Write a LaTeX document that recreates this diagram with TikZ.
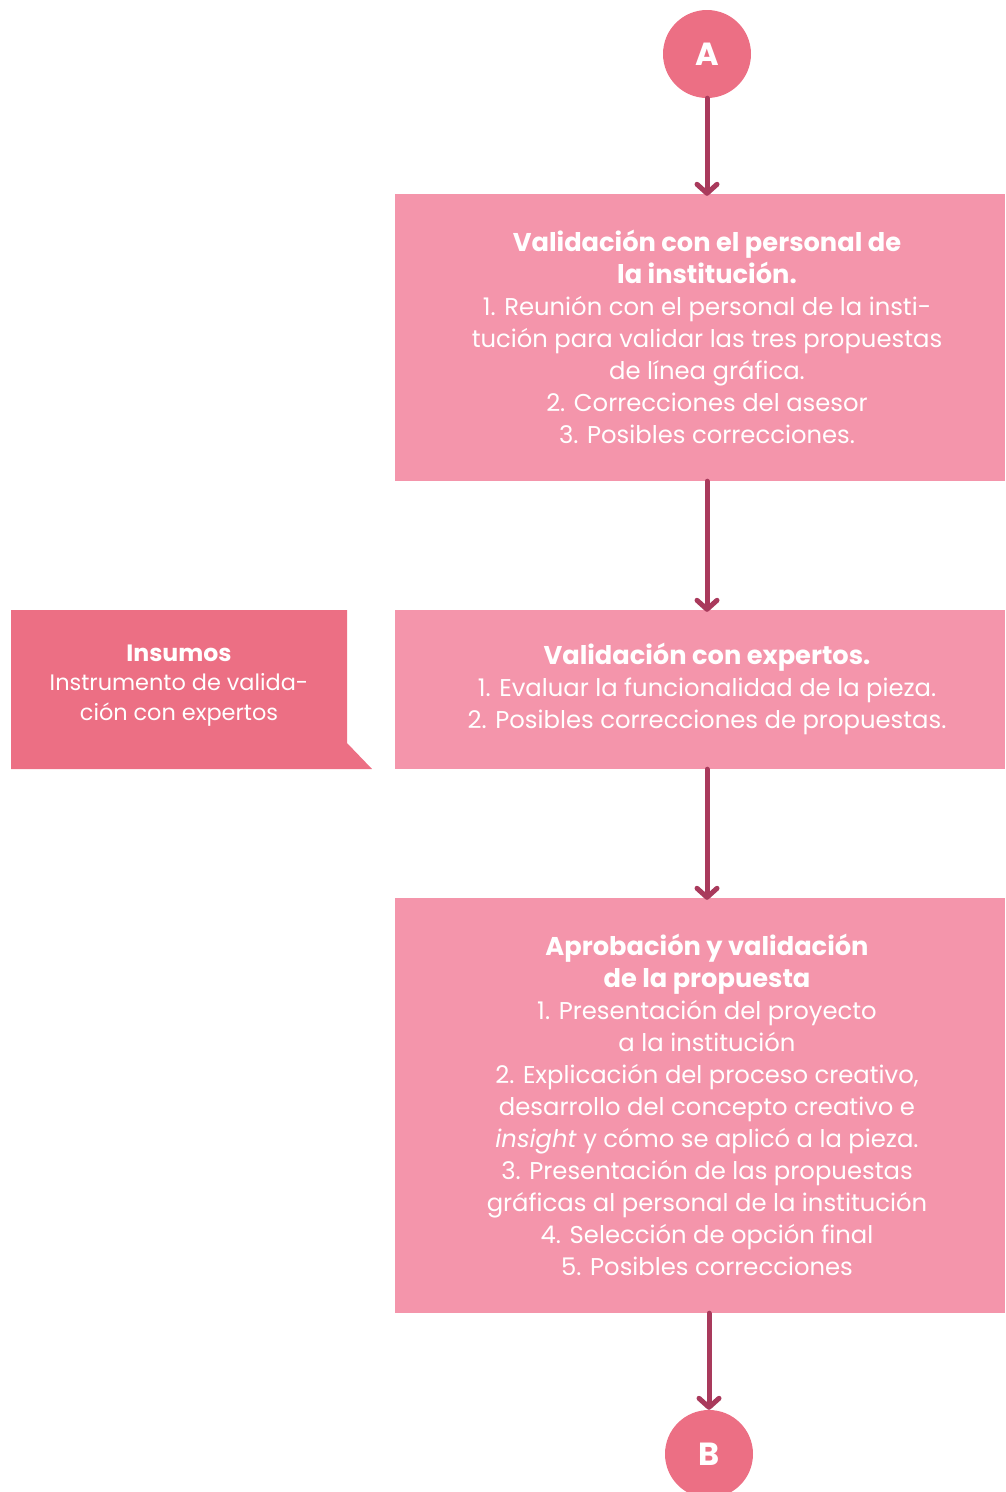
\documentclass[tikz,border=0pt]{standalone}
\usepackage{fontspec}
\setmainfont{Poppins}
\usetikzlibrary{arrows.meta}
\definecolor{boxpink}{HTML}{F495AB}
\definecolor{darkpink}{HTML}{EC6F84}
\definecolor{arrowcol}{HTML}{A93A5C}
\newcommand{\hd}[1]{{\fontsize{25.7}{32}\selectfont\bfseries #1}}
\newcommand{\hds}[1]{{\fontsize{23.6}{29.5}\selectfont\bfseries #1}}
\tikzset{
  x=1pt,y=-1pt,
  boxbg/.style={fill=boxpink, draw=none, inner sep=0pt, minimum width=610pt},
  txt/.style={text=white, align=center, font=\fontsize{24.3}{32}\selectfont, inner sep=0pt},
  smalltxt/.style={text=white, align=center, font=\fontsize{22.4}{29.5}\selectfont, inner sep=0pt},
  circ/.style={circle, fill=darkpink, minimum size=88pt, inner sep=0pt, text=white, font=\fontsize{32}{34}\selectfont\bfseries},
  arr/.style={draw=arrowcol, line width=5pt, line cap=round, -{Straight Barb[length=9pt, width=20pt, line cap=round, line join=round]}},
}
\begin{document}
\begin{tikzpicture}
\useasboundingbox (0,0) rectangle (1005,1492);
\begin{scope}
\clip (0,0) rectangle (1005,1492);
\node[circ] (A) at (707,54) {A};
\node[circ] (B) at (709,1454) {B};
\end{scope}
\node[boxbg, minimum height=287pt] (box1) at (700,337.5) {};
\node[boxbg, minimum height=159pt] (box2) at (700,689.5) {};
\node[boxbg, minimum height=415pt] (box3) at (700,1105.5) {};
\fill[darkpink] (11,610) -- (347,610) -- (347,743) -- (372,769) -- (11,769) -- cycle;
\node[smalltxt] (ins) at (179,685.5) {\hds{Insumos}\\Instrumento de valida-\\ción con expertos};
\node[txt] (t1) at (707,337) {\hd{Validación con el personal de}\\\hd{la institución.}\\1. Reunión con el personal de la insti-\\tución para validar las tres propuestas\\de línea gráfica.\\2. Correcciones del asesor\\3. Posibles correcciones.};
\node[txt] (t2) at (707,689) {\hd{Validación con expertos.}\\1. Evaluar la funcionalidad de la pieza.\\2. Posibles correcciones de propuestas.};
\node[txt] (t3) at (707,1105) {\hd{Aprobación y validación}\\\hd{de la propuesta}\\1. Presentación del proyecto\\a la institución\\2. Explicación del proceso creativo,\\desarrollo del concepto creativo e\\\textit{insight} y cómo se aplicó a la pieza.\\3. Presentación de las propuestas\\gráficas al personal de la institución\\4. Selección de opción final\\5. Posibles correcciones};
\draw[arr] (A.south) -- ([yshift=-2pt]A.south |- box1.north);
\draw[arr] (A.south |- box1.south) -- ([yshift=-2pt]A.south |- box2.north);
\draw[arr] (A.south |- box2.south) -- ([yshift=-2pt]A.south |- box3.north);
\draw[arr] (B.north |- box3.south) -- (B.north);
\end{tikzpicture}
\end{document}
